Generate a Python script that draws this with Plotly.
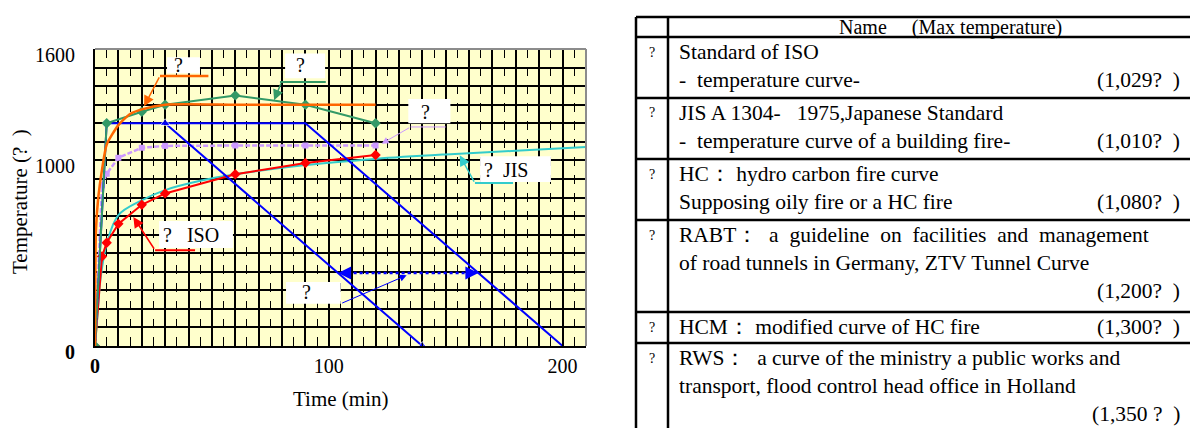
import numpy as np
import plotly.graph_objects as go

# ---------------- data (time in min, temperature rise) ----------------
iso_t = [0, 3, 5, 10, 20, 30, 60, 90, 120]
iso_T = [0, 482, 556, 658, 761, 822, 925, 986, 1029]

jis_t = [0, 1, 2, 3, 5, 10, 20, 30, 45, 60, 90, 120, 150, 180, 210]
jis_T = [0, 160, 320, 420, 550, 705, 785, 840, 890, 925, 975, 1008, 1032, 1052, 1072]

hc_t = [0, 3, 5, 10, 20, 30, 60, 90, 120]
hc_T = [0, 866, 928, 1014, 1068, 1078, 1080, 1080, 1080]

hcm_t = [0, 0.4, 1.4, 3, 5, 10, 15, 20, 30, 60, 90, 120]
hcm_T = [0, 620, 800, 950, 1085, 1190, 1250, 1275, 1300, 1300, 1300, 1300]

rws_t = [0, 5, 20, 30, 60, 90, 120]
rws_T = [0, 1200, 1262, 1300, 1350, 1300, 1200]

rabt_t = [0, 5, 30, 140]
rabt_T = [0, 1200, 1200, 0]

rabt2_t = [30, 90, 200]
rabt2_T = [1200, 1200, 0]

x_ticks = list(range(0, 201, 10))
x_labels = {0: "<b>0</b>", 100: "100", 200: "200"}
y_ticks = list(range(0, 1601, 100))
y_labels = {0: "<b>0</b>", 1000: "1000", 1600: "1600"}

NB = "\u00a0"
table_marks = ["?", "?", "?", "?", "?", "?"]
table_lines = [
    ["Standard of ISO", "-" + NB * 2 + "temperature curve-"],
    ["JIS A 1304-" + NB * 3 + "1975,Japanese Standard", "-" + NB * 2 + "temperature curve of a building fire-"],
    ["HC\uff1a" + NB + "hydro carbon fire curve", "Supposing" + NB + "oily fire or a HC fire"],
    ["RABT\uff1a" + NB * 2 + (NB * 2).join(["a", "guideline", "on", "facilities", "and", "management"]),
     "of road tunnels in Germany, ZTV Tunnel Curve", ""],
    ["HCM\uff1a" + NB + "modified curve of HC fire"],
    ["RWS\uff1a" + NB * 2 + " ".join(["a", "curve", "of", "the", "ministry", "a", "public", "works", "and"]),
     "transport, flood control head office in Holland", ""],
]
table_values = ["(1,029?" + NB * 2 + ")", "(1,010?" + NB * 2 + ")", "(1,080?" + NB * 2 + ")",
                "(1,200?" + NB * 2 + ")", "(1,300?" + NB * 2 + ")", "(1,350" + NB + "?" + NB * 2 + ")"]

# ---------------- figure ----------------
W, H = 1190, 428
FONT = "Liberation Serif"
fig = go.Figure()

RED, CYAN, LAV, ORANGE, GREEN, BLUE = "#FF0000", "#33CCCC", "#CC99FF", "#FF6600", "#339966", "#0000FF"

fig.add_trace(go.Scatter(x=jis_t, y=jis_T, mode="lines", line=dict(color=CYAN, width=2, shape="spline")))
fig.add_trace(go.Scatter(x=iso_t, y=iso_T, mode="lines+markers", line=dict(color=RED, width=2),
                         marker=dict(symbol="diamond", size=8, color=RED)))
fig.add_trace(go.Scatter(x=hc_t, y=hc_T, mode="lines+markers", line=dict(color=LAV, width=2.5, dash="5px,2px"),
                         marker=dict(symbol="square", size=6, color=LAV)))
fig.add_trace(go.Scatter(x=rabt2_t, y=rabt2_T, mode="lines", line=dict(color=BLUE, width=2)))
fig.add_trace(go.Scatter(x=rabt_t, y=rabt_T, mode="lines+markers", line=dict(color=BLUE, width=2),
                         marker=dict(symbol=["square", "square", "triangle-up", "triangle-up"], size=[6, 6, 9, 9], color=BLUE)))
fig.add_trace(go.Scatter(x=rws_t, y=rws_T, mode="lines+markers", line=dict(color=GREEN, width=2),
                         marker=dict(symbol="diamond", size=8, color=GREEN)))
fig.add_trace(go.Scatter(x=hcm_t, y=hcm_T, mode="lines", line=dict(color=ORANGE, width=2.5, shape="spline", smoothing=0.6)))

x0p, x1p, ytp, ybp = 95, 586, 49, 346
fig.update_layout(
    width=W, height=H, margin=dict(l=0, r=0, t=0, b=0, autoexpand=False),
    paper_bgcolor="white", plot_bgcolor="#FFFFCC", showlegend=False,
    font=dict(family=FONT, size=20, color="black"),
)
fig.update_xaxes(
    domain=[x0p / W, x1p / W], range=[0, 210], tickmode="array", automargin=False,
    tickvals=x_ticks, ticktext=[x_labels.get(v, "") for v in x_ticks],
    showgrid=True, gridcolor="black", gridwidth=1.5,
    minor=dict(tickvals=list(range(5, 210, 10)), showgrid=True, gridcolor="black", griddash="dash", gridwidth=1,
               ticks="inside", ticklen=3, tickcolor="black"),
    showline=True, linecolor="black", linewidth=2, zeroline=False,
    ticks="inside", ticklen=3, tickcolor="black", ticklabelstandoff=1,
    tickfont=dict(family=FONT, size=20),
)
fig.update_yaxes(
    domain=[1 - ybp / H, 1 - ytp / H], range=[0, 1600], tickmode="array", automargin=False,
    tickvals=y_ticks, ticktext=[y_labels.get(v, "") for v in y_ticks],
    showgrid=True, gridcolor="black", gridwidth=2,
    showline=True, linecolor="black", linewidth=2, zeroline=False, ticks="",
    ticklabelstandoff=14, ticklabelshift=6, tickfont=dict(family=FONT, size=20),
)

shapes = []
annos = []
# top/right grey frame
shapes.append(dict(type="line", xref="x domain", yref="y domain", x0=0, x1=1, y0=1, y1=1, line=dict(color="#8c8c8c", width=2)))
shapes.append(dict(type="line", xref="x domain", yref="y domain", x0=1, x1=1, y0=0, y1=1, line=dict(color="#8c8c8c", width=2)))

# axis titles
annos.append(dict(xref="paper", yref="paper", x=20 / W, y=1 - 202 / H, text="Temperature (?" + NB * 2 + ")",
                  textangle=-90, showarrow=False, font=dict(family=FONT, size=21), xanchor="center", yanchor="middle"))
annos.append(dict(xref="paper", yref="paper", x=340 / W, y=1 - 399 / H, text="Time (min)",
                  showarrow=False, font=dict(family=FONT, size=21), xanchor="center", yanchor="middle"))


def callout(box, text, tx, ty, under, tail, head, color, lw=2, head_w=1.5):
    shapes.append(dict(type="rect", xref="x", yref="y", x0=box[0], x1=box[1], y0=box[2], y1=box[3],
                       fillcolor="white", line=dict(width=0), layer="above"))
    annos.append(dict(xref="x", yref="y", x=tx, y=ty, text=text, showarrow=False, xanchor="left",
                      yanchor="middle", font=dict(family=FONT, size=20)))
    if under is not None:
        shapes.append(dict(type="line", xref="x", yref="y", x0=under[0], x1=under[1], y0=under[2], y1=under[2],
                           line=dict(color=color, width=lw), layer="above"))
    annos.append(dict(xref="x", yref="y", axref="x", ayref="y", x=head[0], y=head[1], ax=tail[0], ay=tail[1],
                      text="", showarrow=True, arrowhead=2, arrowsize=1.4, arrowwidth=head_w, arrowcolor=color))


callout((30.8, 44.9, 1469, 1555), "?", 33.0, 1512, (27.8, 48.5, 1455), (27.8, 1455), (21.0, 1291), ORANGE, 2.5)
callout((81.3, 98.4, 1443, 1576), "?", 85.0, 1512, (79.1, 98.7, 1422), (79.8, 1422), (76.6, 1324), GREEN, 2)
callout((134, 152, 1200, 1330), "?", 138.5, 1259, (135, 150, 1180), (135, 1180), (122.6, 1090), LAV, 1, 1)
callout((164.7, 195, 884, 1022), "?" + NB * 2 + "JIS", 165.5, 946, (162.5, 178.8, 878), (162.5, 878), (156, 1027), CYAN, 2)
callout((27.4, 59, 528, 673), "?" + NB * 3 + "ISO", 28.2, 596, (25.7, 42.8, 516), (25.7, 516), (16.4, 695), RED, 2)
callout((81.7, 105.1, 228, 345), "?", 87.5, 289, None, (105.1, 228), (133.3, 381), BLUE, 1, 1)

# double arrow between the two RABT cooling branches
T_arrow = 393
t_left = float(np.interp(T_arrow, [rabt_T[3], rabt_T[2]], [rabt_t[3], rabt_t[2]]))
t_right = float(np.interp(T_arrow, [rabt2_T[2], rabt2_T[1]], [rabt2_t[2], rabt2_t[1]]))
shapes.append(dict(type="line", xref="x", yref="y", x0=t_left + 1.5, x1=t_right - 1.5, y0=T_arrow, y1=T_arrow,
                   line=dict(color=BLUE, width=2.5, dash="dot")))
for xh, xt in ((t_left, t_left + 4), (t_right, t_right - 4)):
    annos.append(dict(xref="x", yref="y", axref="x", ayref="y", x=xh, y=T_arrow, ax=xt, ay=T_arrow,
                      text="", showarrow=True, arrowhead=2, arrowsize=1.3, arrowwidth=2, arrowcolor=BLUE))

# ---------------- table (drawn with lines + text) ----------------
TL, TS, TR = 636, 668, W
row_edges = [17, 37, 98, 159, 220, 312, 343]
TB = H
LINE_PITCH = 28
FIRST = 15
TFS = 21.5


def px(x):
    return x / W


def py(y):
    return 1 - y / H


for y in row_edges:
    shapes.append(dict(type="line", xref="paper", yref="paper", x0=px(TL), x1=px(TR), y0=py(y), y1=py(y),
                       line=dict(color="black", width=2.5)))
for x in (TL, TS):
    shapes.append(dict(type="line", xref="paper", yref="paper", x0=px(x), x1=px(x), y0=py(row_edges[0]), y1=py(TB),
                       line=dict(color="black", width=2.5)))

annos.append(dict(xref="paper", yref="paper", x=px(950), y=py(27.5), text="Name" + NB * 5 + "(Max temperature)",
                  showarrow=False, xanchor="center", yanchor="middle", font=dict(family=FONT, size=20)))

row_tops = row_edges[1:]
for i, lines in enumerate(table_lines):
    top = row_tops[i]
    annos.append(dict(xref="paper", yref="paper", x=px((TL + TS) / 2), y=py(top + FIRST), text=table_marks[i],
                      showarrow=False, xanchor="center", yanchor="middle", font=dict(family=FONT, size=14)))
    for j, ln in enumerate(lines):
        if ln:
            annos.append(dict(xref="paper", yref="paper", x=px(677), y=py(top + FIRST + j * LINE_PITCH), text=ln,
                              showarrow=False, xanchor="left", yanchor="middle", font=dict(family=FONT, size=TFS)))
    annos.append(dict(xref="paper", yref="paper", x=px(1182), y=py(top + FIRST + (len(lines) - 1) * LINE_PITCH),
                      text=table_values[i], showarrow=False, xanchor="right", yanchor="middle",
                      font=dict(family=FONT, size=TFS)))

fig.update_layout(shapes=shapes, annotations=annos)
fig.write_html("out.html", config={"displayModeBar": False},
               post_script="document.body.style.margin='0';document.body.style.overflow='hidden';")
